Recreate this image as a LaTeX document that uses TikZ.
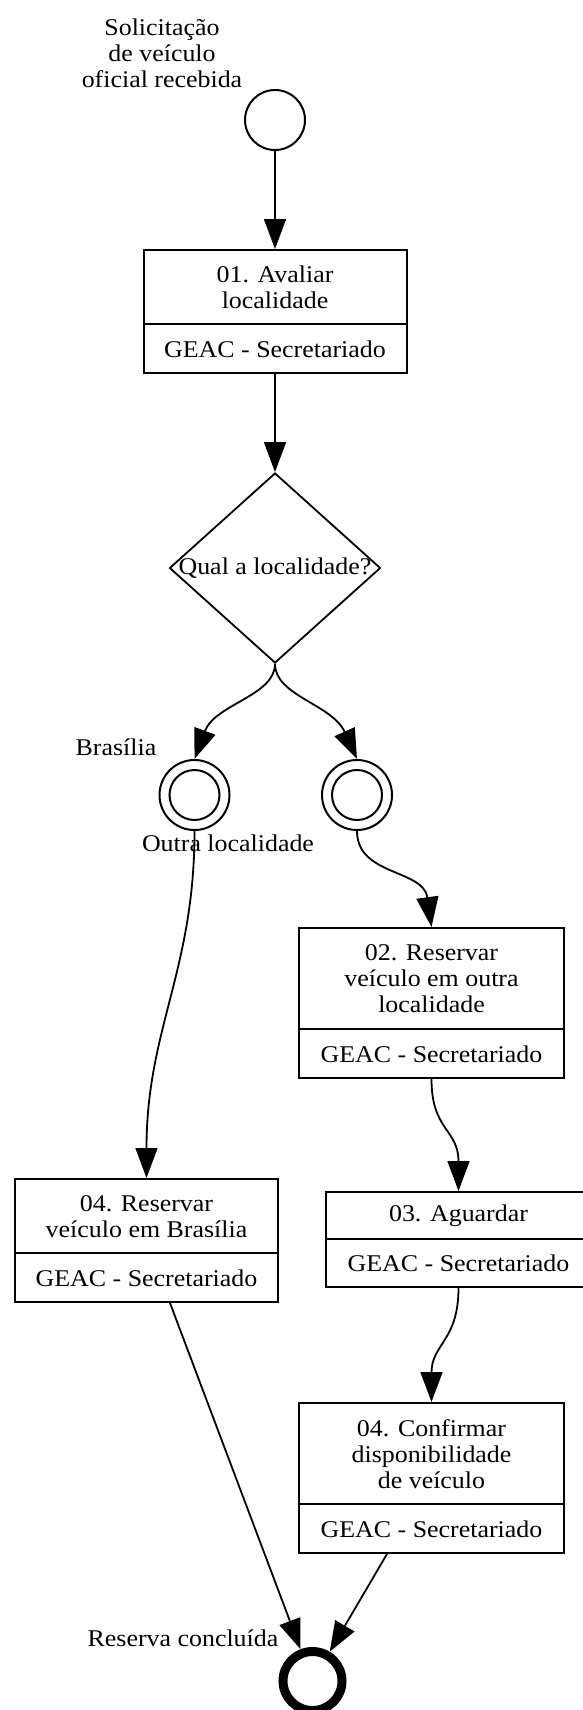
\documentclass[tikz,border=0pt]{standalone}
\usepackage{fontspec}
\setmainfont{Liberation Serif}[FakeStretch=1.08]
\usetikzlibrary{arrows.meta,shapes.geometric,calc}
\begin{document}
\begin{tikzpicture}[x=1pt,y=-1pt,
  every node/.style={font=\fontsize{24}{26}\selectfont},
  line width=1.8pt,
  task/.style={draw, line width=2pt, rectangle, inner sep=0pt},
  txt/.style={align=center, inner sep=0pt},
  flow/.style={-{Triangle[length=30pt,width=22pt]}, line width=1.8pt},
  evstart/.style={draw, circle, minimum size=60pt, inner sep=0pt, line width=2pt},
  evmid/.style={draw, circle, minimum size=70pt, inner sep=0pt, line width=2pt},
  evend/.style={draw, circle, minimum size=59pt, line width=9pt, inner sep=0pt},
  gate/.style={draw, diamond, minimum width=211pt, minimum height=190pt, inner sep=0pt, line width=1.8pt}
]
\useasboundingbox (0,0) rectangle (582,1710);

% events and gateway
\node[evstart] (s) at (275,120) {};
\node[gate] (g) at (275,568) {};
\node[txt] (lq) at (275,568) {Qual a localidade?};
\node[evmid] (e1) at (194.5,795) {};
\draw[line width=2pt] (e1.center) circle[radius=25pt];
\node[evmid] (e2) at (357,795) {};
\draw[line width=2pt] (e2.center) circle[radius=25pt];
\node[evend] (end) at (312.5,1681) {};

% tasks
\node[task, minimum width=263pt, minimum height=123pt] (t1) at (275,311.5) {};
\draw[line width=2pt] ($(t1.north west)+(0,75)$) -- ($(t1.north east)+(0,75)$);
\node[txt] (t1a) at (275,287.5) {01. Avaliar\\localidade};
\node[txt] (t1b) at (275,349) {GEAC - Secretariado};

\node[task, minimum width=265pt, minimum height=150pt] (t2) at (431.5,1003) {};
\draw[line width=2pt] ($(t2.north west)+(0,102)$) -- ($(t2.north east)+(0,102)$);
\node[txt] (t2a) at (431.5,979) {02. Reservar\\veículo em outra\\localidade};
\node[txt] (t2b) at (431.5,1054) {GEAC - Secretariado};

\node[task, minimum width=265pt, minimum height=95pt] (t3) at (458.5,1239.5) {};
\draw[line width=2pt] ($(t3.north west)+(0,48)$) -- ($(t3.north east)+(0,48)$);
\node[txt] (t3a) at (458.5,1216) {03. Aguardar};
\node[txt] (t3b) at (458.5,1263.5) {GEAC - Secretariado};

\node[task, minimum width=263pt, minimum height=123pt] (t4l) at (146.5,1240.5) {};
\draw[line width=2pt] ($(t4l.north west)+(0,75)$) -- ($(t4l.north east)+(0,75)$);
\node[txt] (t4la) at (146.5,1216.5) {04. Reservar\\veículo em Brasília};
\node[txt] (t4lb) at (146.5,1278) {GEAC - Secretariado};

\node[task, minimum width=265pt, minimum height=150pt] (t4c) at (431.5,1478) {};
\draw[line width=2pt] ($(t4c.north west)+(0,102)$) -- ($(t4c.north east)+(0,102)$);
\node[txt] (t4ca) at (431.5,1454) {04. Confirmar\\disponibilidade\\de veículo};
\node[txt] (t4cb) at (431.5,1529) {GEAC - Secretariado};

% labels
\node[txt] (lstart) at (162,53) {Solicitação\\de veículo\\oficial recebida};
\node[txt] (lbr) at (116,747) {Brasília};
\node[txt] (lout) at (228,843) {Outra localidade};
\node[txt] (lend) at (183,1638) {Reserva concluída};

% connectors
\draw[flow] (s) -- (t1);
\draw[flow] (t1) -- (g);
\draw[flow] (g.south) .. controls +(0,32) and +(20.5,-55) .. (e1.north);
\draw[flow] (g.south) .. controls +(0,32) and +(-25,-55) .. (e2.north);
\draw[flow] (e1.south) .. controls +(0,140) and +(0,-149) .. (t4l.north);
\draw[flow] (e2.south) .. controls +(0,45) and +(-8,-58) .. (t2.north);
\draw[flow] (t2.south) .. controls +(0,52) and +(0,-62) .. (t3.north);
\draw[flow] (t3.south) .. controls +(0,53) and +(0,-58) .. (t4c.north);
\draw[flow] (t4l) -- (end);
\draw[flow] (t4c) -- (end);
\end{tikzpicture}
\end{document}
